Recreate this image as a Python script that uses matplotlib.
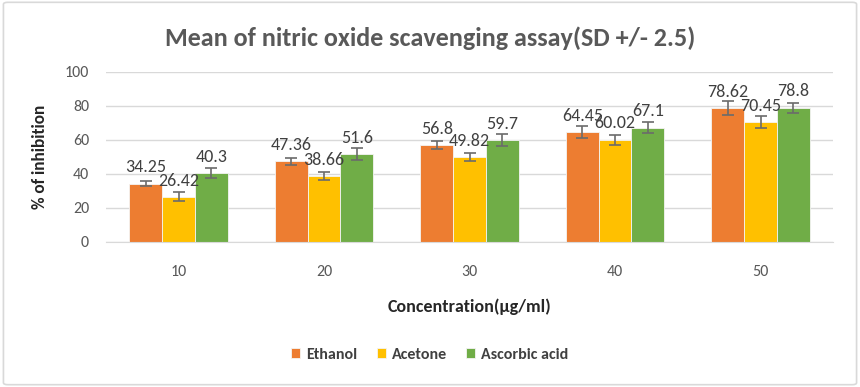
import matplotlib
matplotlib.use("Agg")
import matplotlib.pyplot as plt
import numpy as np
from matplotlib.patches import FancyBboxPatch

categories = ["10", "20", "30", "40", "50"]
ethanol = [34.25, 47.36, 56.8, 64.45, 78.62]
acetone = [26.42, 38.66, 49.82, 60.02, 70.45]
ascorbic = [40.3, 51.6, 59.7, 67.1, 78.8]
ethanol_err = [1.7, 2.1, 2.2, 3.5, 4.4]
acetone_err = [2.6, 2.1, 2.6, 3.0, 3.4]
ascorbic_err = [2.8, 3.5, 3.5, 3.4, 2.9]
series_names = ["Ethanol", "Acetone", "Ascorbic acid"]
colors = ["#ED7D31", "#FFC000", "#70AD47"]

plt.rcParams['font.family'] = ['Carlito', 'Open Sans', 'DejaVu Sans']

fig = plt.figure(figsize=(8.6, 3.87), dpi=100)
border = FancyBboxPatch((0.004, 0.006), 0.992, 0.988, boxstyle="round,pad=0,rounding_size=0.005",
                        transform=fig.transFigure, facecolor="none", edgecolor="#D9D9D9", lw=1.2)
fig.patches.append(border)

ax = fig.add_axes([0.123, 0.375, 0.846, 0.44])
x = np.arange(len(categories))
w = 0.225
data = [ethanol, acetone, ascorbic]
errs = [ethanol_err, acetone_err, ascorbic_err]
for i, (vals, e, c, n) in enumerate(zip(data, errs, colors, series_names)):
    pos = x + (i - 1) * w
    ax.bar(pos, vals, w, color=c, edgecolor="#F4F4F4", linewidth=0.6, label=n, zorder=2)
    ax.errorbar(pos, vals, yerr=e, fmt="none", ecolor="#6B6B6B", elinewidth=1.2,
                capsize=4, capthick=1.2, zorder=3)
    for p, v in zip(pos, vals):
        ax.annotate(f"{v:g}", (p, v), xytext=(0, 6), textcoords="offset points",
                    ha="center", va="bottom", fontsize=13, color="#404040", zorder=4)

ax.set_ylim(0, 100)
ax.set_xlim(-0.5, len(categories) - 0.5)
ax.set_yticks(range(0, 101, 20))
ax.set_xticks(x)
ax.set_xticklabels(categories)
ax.yaxis.grid(True, color="#D9D9D9", lw=1.0, zorder=0)
ax.set_axisbelow(True)
for s in ["top", "right", "left"]:
    ax.spines[s].set_visible(False)
ax.spines["bottom"].set_color("#D9D9D9")
ax.tick_params(axis="both", length=0, labelsize=11.5, colors="#595959")
ax.tick_params(axis="x", pad=17)
ax.tick_params(axis="y", pad=12)
ax.set_ylabel("% of inhibition", fontsize=12.5, fontweight="bold", color="#262626", labelpad=12)
ax.set_xlabel("Concentration(µg/ml)", fontsize=13, fontweight="bold", color="#262626", labelpad=14)

fig.text(0.5, 0.9, "Mean of nitric oxide scavenging assay(SD +/- 2.5)", ha="center", va="center",
         fontsize=18.8, fontweight="bold", color="#595959")

handles, labels = ax.get_legend_handles_labels()
fig.legend(handles, labels, loc="center", bbox_to_anchor=(0.5, 0.083), ncol=3, frameon=False,
           handlelength=0.55, handleheight=0.55, handletextpad=0.4, columnspacing=1.2,
           prop={'weight': 'bold', 'size': 11.5})
for t in fig.legends[0].get_texts():
    t.set_color("#404040")

fig.savefig("out.png", dpi=100)
